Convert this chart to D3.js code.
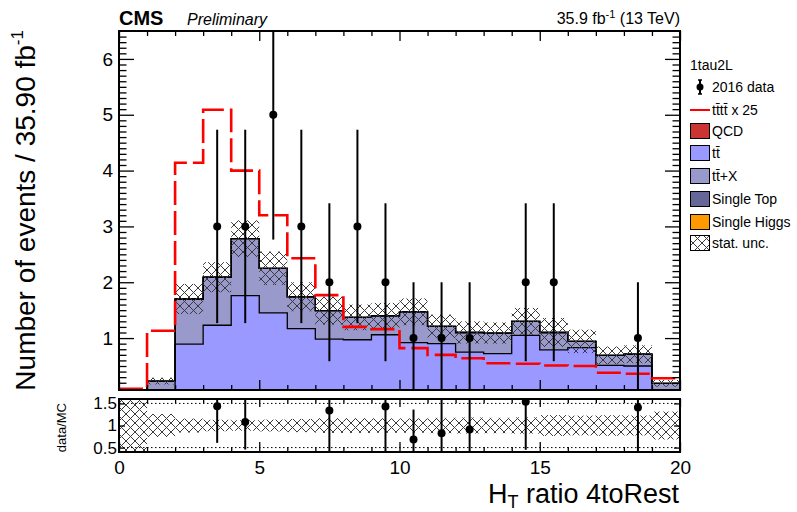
<!DOCTYPE html>
<html>
<head>
<meta charset="utf-8">
<script src="https://cdn.jsdelivr.net/npm/d3@7"></script>
<style>
  body { margin: 0; background: #fff; }
  svg { display: block; font-family: "Liberation Sans", Arial, Helvetica, sans-serif; }
</style>
</head>
<body>
<svg id="chart" width="797" height="512"></svg>
<script>
// ---- histogram contents (20 bins of H_T ratio 4toRest) ----
const binEdges   = [0,1,2,3,4,5,6,7,8,9,10,11,12,13,14,15,16,17,18,19,20];
const qcd        = [0,0,0,0,0,0,0,0,0,0,0,0,0,0,0,0,0,0,0,0];
const ttbar      = [0,0,0.89,1.23,1.76,1.45,1.17,0.98,0.97,1.06,0.92,0.90,0.75,0.72,1.05,0.79,0.83,0.51,0.50,0];
const ttX        = [0,0.23,0.81,0.86,1.02,0.80,0.57,0.51,0.40,0.34,0.55,0.31,0.35,0.37,0.25,0.31,0.11,0.18,0.21,0.19];
const singleTop  = [0,0,0,0,0,0,0,0,0,0,0,0,0,0,0,0,0,0,0,0];
const singleHiggs= [0,0,0,0,0,0,0,0,0,0,0,0,0,0,0,0,0,0,0,0];
const statUnc    = [0,0.06,0.27,0.27,0.33,0.30,0.26,0.25,0.23,0.23,0.24,0.21,0.20,0.19,0.24,0.26,0.21,0.16,0.16,0.06];
const signalX25  = [0,1.13,4.14,5.09,4.00,3.20,2.43,1.77,1.20,1.16,0.82,0.70,0.64,0.55,0.54,0.51,0.50,0.38,0.36,0.28];
const data2016   = [0,0,0,3,3,5,3,2,3,2,1,1,1,0,2,2,0,0,1,0];

const xMajorTicks = [0,5,10,15,20];
const yMajorTicks = [1,2,3,4,5,6];
const ratioTicks  = [0.5,1,1.5];

const layerKeys   = ["qcd","ttbar","ttX","singleTop","singleHiggs"];
const layerColors = {qcd:"#cc3333", ttbar:"#9999ff", ttX:"#9999cc", singleTop:"#666699", singleHiggs:"#ff9900"};

// ---- geometry ----
const L = 119, R = 680;
const mainTop = 31, mainBot = 390;
const ratTop = 399, ratBot = 452;
const yMin = 0.07, yMax = 6.5;

const svg = d3.select("#chart");
const x  = d3.scaleLinear().domain([0,20]).range([L,R]);
const y  = d3.scaleLinear().domain([yMin,yMax]).range([mainBot,mainTop]);
const yr = d3.scaleLinear().domain([0.4,1.6]).range([ratBot,ratTop]);

const defs = svg.append("defs");
defs.append("clipPath").attr("id","clipMain").append("rect")
  .attr("x",L).attr("y",mainTop).attr("width",R-L).attr("height",mainBot-mainTop);
defs.append("clipPath").attr("id","clipRatio").append("rect")
  .attr("x",L).attr("y",ratTop).attr("width",R-L).attr("height",ratBot-ratTop);
const pat = defs.append("pattern").attr("id","hatch").attr("patternUnits","userSpaceOnUse")
  .attr("width",9).attr("height",9);
pat.append("path").attr("d","M0,0L9,9M9,0L0,9M-1,8L1,10M8,-1L10,1")
  .attr("stroke","#3a3a3a").attr("stroke-width",1).attr("fill","none");

// ---- stacked backgrounds ----
const rows = ttbar.map((_,i)=>({qcd:qcd[i], ttbar:ttbar[i], ttX:ttX[i], singleTop:singleTop[i], singleHiggs:singleHiggs[i]}));
const series = d3.stack().keys(layerKeys)(rows);
const total = rows.map(r => layerKeys.reduce((s,k)=>s+r[k],0));

function stepPoints(vals0, vals1) {
  const pts = vals1.map((v,i)=>({x:binEdges[i], y0:vals0[i], y1:v}));
  pts.push({x:binEdges[vals1.length], y0:vals0[vals0.length-1], y1:vals1[vals1.length-1]});
  return pts;
}
const clampY = v => Math.max(v, yMin - 0.05);

const gMain = svg.append("g").attr("clip-path","url(#clipMain)");
const area = d3.area().curve(d3.curveStepAfter)
  .x(d=>x(d.x)).y0(d=>y(clampY(d.y0))).y1(d=>y(clampY(d.y1)));
const topLine = d3.line().curve(d3.curveStepAfter)
  .x(d=>x(d.x)).y(d=>y(clampY(d.y1)));

series.forEach(s => {
  const pts = stepPoints(s.map(d=>d[0]), s.map(d=>d[1]));
  gMain.append("path").attr("d",area(pts)).attr("fill",layerColors[s.key]).attr("stroke","none");
});
series.forEach(s => {
  const pts = stepPoints(s.map(d=>d[0]), s.map(d=>d[1]));
  gMain.append("path").attr("d",topLine(pts)).attr("fill","none").attr("stroke","#000").attr("stroke-width",1.3);
});

// statistical uncertainty band
gMain.selectAll("rect.unc").data(total.map((t,i)=>({i,t,e:statUnc[i]})).filter(d=>d.e>0))
  .join("rect").attr("class","unc")
  .attr("x",d=>x(binEdges[d.i])).attr("width",d=>x(binEdges[d.i+1])-x(binEdges[d.i]))
  .attr("y",d=>y(d.t+d.e)).attr("height",d=>y(clampY(d.t-d.e))-y(d.t+d.e))
  .attr("fill","url(#hatch)");

// four-top signal, scaled by 25
const sigPts = stepPoints(signalX25.map(()=>0), signalX25);
gMain.append("path")
  .attr("d", d3.line().curve(d3.curveStepAfter).x(d=>x(d.x)).y(d=>y(Math.max(d.y1, yMin+0.02)))(sigPts))
  .attr("fill","none").attr("stroke","#ff0000").attr("stroke-width",2.6)
  .attr("stroke-dasharray","24,6");

// data points
const dataPts = data2016.map((n,i)=>({i,n,xc:(binEdges[i]+binEdges[i+1])/2})).filter(d=>d.n>0);
gMain.selectAll("line.err").data(dataPts).join("line").attr("class","err")
  .attr("x1",d=>x(d.xc)).attr("x2",d=>x(d.xc))
  .attr("y1",d=>y(d.n+Math.sqrt(d.n))).attr("y2",d=>y(Math.max(d.n-Math.sqrt(d.n), yMin-0.1)))
  .attr("stroke","#000").attr("stroke-width",2);
gMain.selectAll("circle.pt").data(dataPts).join("circle").attr("class","pt")
  .attr("cx",d=>x(d.xc)).attr("cy",d=>y(d.n)).attr("r",4).attr("fill","#000");

// ---- main panel axes ----
const fmt = d3.format("");
function ticksAxis(axis, scale, values, size, pos, labels, pad, fs) {
  const a = axis(scale).tickValues(values).tickSize(size).tickPadding(pad||6)
    .tickFormat(labels ? fmt : "");
  const g = svg.append("g").attr("transform",pos).call(a);
  g.select(".domain").remove();
  g.selectAll("line").attr("stroke","#000").attr("stroke-width",1.3);
  g.selectAll("text").attr("font-size",fs||19).attr("fill","#000").attr("font-family","Liberation Sans, Arial, sans-serif");
  return g;
}
const yMinor = d3.range(2,65).map(v=>v/10).filter(v=>v>=yMin && Math.abs(v-Math.round(v))>1e-6);
const xMinor = d3.range(1,20).filter(v=>v%5!==0);

ticksAxis(d3.axisLeft, y, yMajorTicks, -15, `translate(${L},0)`, true, 6, 19);
ticksAxis(d3.axisLeft, y, yMinor, -7.5, `translate(${L},0)`, false);
ticksAxis(d3.axisRight, y, yMajorTicks, -15, `translate(${R},0)`, false);
ticksAxis(d3.axisRight, y, yMinor, -7.5, `translate(${R},0)`, false);
ticksAxis(d3.axisTop, x, xMajorTicks, -10, `translate(0,${mainTop})`, false);
ticksAxis(d3.axisTop, x, xMinor, -5, `translate(0,${mainTop})`, false);
ticksAxis(d3.axisBottom, x, xMajorTicks, -10, `translate(0,${mainBot})`, false);
ticksAxis(d3.axisBottom, x, xMinor, -5, `translate(0,${mainBot})`, false);
svg.append("rect").attr("x",L).attr("y",mainTop).attr("width",R-L).attr("height",mainBot-mainTop)
  .attr("fill","none").attr("stroke","#000").attr("stroke-width",2);

// ---- ratio panel ----
const gRat = svg.append("g").attr("clip-path","url(#clipRatio)");
gRat.selectAll("rect.band").data(total.map((t,i)=>({i,t,e:statUnc[i]})))
  .join("rect").attr("class","band")
  .attr("x",d=>x(binEdges[d.i])).attr("width",d=>x(binEdges[d.i+1])-x(binEdges[d.i]))
  .attr("y",d=>d.t>0 ? yr(1+d.e/d.t) : ratTop)
  .attr("height",d=>d.t>0 ? yr(1-d.e/d.t)-yr(1+d.e/d.t) : ratBot-ratTop)
  .attr("fill","url(#hatch)");
[0.5,1.5].forEach(v=>{
  gRat.append("line").attr("x1",L).attr("x2",R).attr("y1",yr(v)).attr("y2",yr(v))
    .attr("stroke","#000").attr("stroke-width",1).attr("stroke-dasharray","1.5,2.5");
});
const ratioPts = dataPts.filter(d=>total[d.i]>0)
  .map(d=>({xc:d.xc, r:d.n/total[d.i], e:Math.sqrt(d.n)/total[d.i]}))
  .filter(d=>d.r>=0.4 && d.r<=1.6);
gRat.selectAll("line.rerr").data(ratioPts).join("line").attr("class","rerr")
  .attr("x1",d=>x(d.xc)).attr("x2",d=>x(d.xc))
  .attr("y1",d=>yr(d.r+d.e)).attr("y2",d=>yr(d.r-d.e))
  .attr("stroke","#000").attr("stroke-width",2);
gRat.selectAll("circle.rpt").data(ratioPts).join("circle").attr("class","rpt")
  .attr("cx",d=>x(d.xc)).attr("cy",d=>yr(d.r)).attr("r",4).attr("fill","#000");

ticksAxis(d3.axisLeft, yr, ratioTicks, -6, `translate(${L},0)`, true, 2, 17);
ticksAxis(d3.axisRight, yr, ratioTicks, -6, `translate(${R},0)`, false);
ticksAxis(d3.axisTop, x, xMajorTicks, -8, `translate(0,${ratTop})`, false);
ticksAxis(d3.axisTop, x, xMinor, -4, `translate(0,${ratTop})`, false);
ticksAxis(d3.axisBottom, x, xMajorTicks, -10, `translate(0,${ratBot})`, true, 9, 19);
ticksAxis(d3.axisBottom, x, xMinor, -5, `translate(0,${ratBot})`, false);
svg.append("rect").attr("x",L).attr("y",ratTop).attr("width",R-L).attr("height",ratBot-ratTop)
  .attr("fill","none").attr("stroke","#000").attr("stroke-width",2);

// ---- titles ----
const yTitle = svg.append("text").attr("transform","translate(35,30) rotate(-90)")
  .attr("text-anchor","end").attr("font-size",28).attr("fill","#000");
yTitle.append("tspan").text("Number of events / 35.90 fb");
yTitle.append("tspan").attr("font-size",17).attr("dy",-12).text("-1");

svg.append("text").attr("transform","translate(66,403) rotate(-90)")
  .attr("text-anchor","end").attr("font-size",13).attr("fill","#000").text("data/MC");

const xTitle = svg.append("text").attr("x",679).attr("y",503).attr("text-anchor","end")
  .attr("font-size",27).attr("fill","#000");
xTitle.append("tspan").text("H");
xTitle.append("tspan").attr("font-size",18).attr("dy",5).text("T");
xTitle.append("tspan").attr("dy",-5).text(" ratio 4toRest");

svg.append("text").attr("x",L).attr("y",25).attr("font-size",20).attr("font-weight","bold").text("CMS");
svg.append("text").attr("x",187).attr("y",25).attr("font-size",16).attr("font-style","italic").text("Preliminary");
const lumi = svg.append("text").attr("x",R).attr("y",24).attr("text-anchor","end").attr("font-size",16);
lumi.append("tspan").text("35.9 fb");
lumi.append("tspan").attr("font-size",11).attr("dy",-6).text("-1");
lumi.append("tspan").attr("dy",6).text(" (13 TeV)");

// ---- legend ----
const legX = 690, legText = 712, legFs = 14;
svg.append("text").attr("x",legX).attr("y",65+5).attr("font-size",legFs).text("1tau2L");
const legendEntries = [
  {label:"2016 data", type:"data", yc:87},
  {label:"tt̄tt̄ x 25", type:"line", yc:110},
  {label:"QCD", type:"box", key:"qcd", yc:131},
  {label:"tt̄", type:"box", key:"ttbar", yc:153},
  {label:"tt̄+X", type:"box", key:"ttX", yc:176},
  {label:"Single Top", type:"box", key:"singleTop", yc:199},
  {label:"Single Higgs", type:"box", key:"singleHiggs", yc:222},
  {label:"stat. unc.", type:"hatch", yc:243}
];
legendEntries.forEach(e=>{
  const g = svg.append("g");
  if (e.type==="data") {
    g.append("line").attr("x1",700).attr("x2",700).attr("y1",e.yc-7).attr("y2",e.yc+7).attr("stroke","#000").attr("stroke-width",2);
    g.append("line").attr("x1",698).attr("x2",702).attr("y1",e.yc-7).attr("y2",e.yc-7).attr("stroke","#000").attr("stroke-width",1.5);
    g.append("line").attr("x1",698).attr("x2",702).attr("y1",e.yc+7).attr("y2",e.yc+7).attr("stroke","#000").attr("stroke-width",1.5);
    g.append("circle").attr("cx",700).attr("cy",e.yc).attr("r",3.5).attr("fill","#000");
  } else if (e.type==="line") {
    g.append("line").attr("x1",legX).attr("x2",legX+20).attr("y1",e.yc).attr("y2",e.yc).attr("stroke","#ff0000").attr("stroke-width",2);
  } else if (e.type==="box") {
    g.append("rect").attr("x",legX+0.5).attr("y",e.yc-7.5).attr("width",19).attr("height",15)
      .attr("fill",layerColors[e.key]).attr("stroke","#000").attr("stroke-width",1);
  } else {
    g.append("rect").attr("x",legX+0.5).attr("y",e.yc-7.5).attr("width",19).attr("height",15)
      .attr("fill","url(#hatch)").attr("stroke","#000").attr("stroke-width",1);
  }
  g.append("text").attr("x",legText).attr("y",e.yc+5).attr("font-size",legFs).text(e.label);
});
</script>
</body>
</html>
